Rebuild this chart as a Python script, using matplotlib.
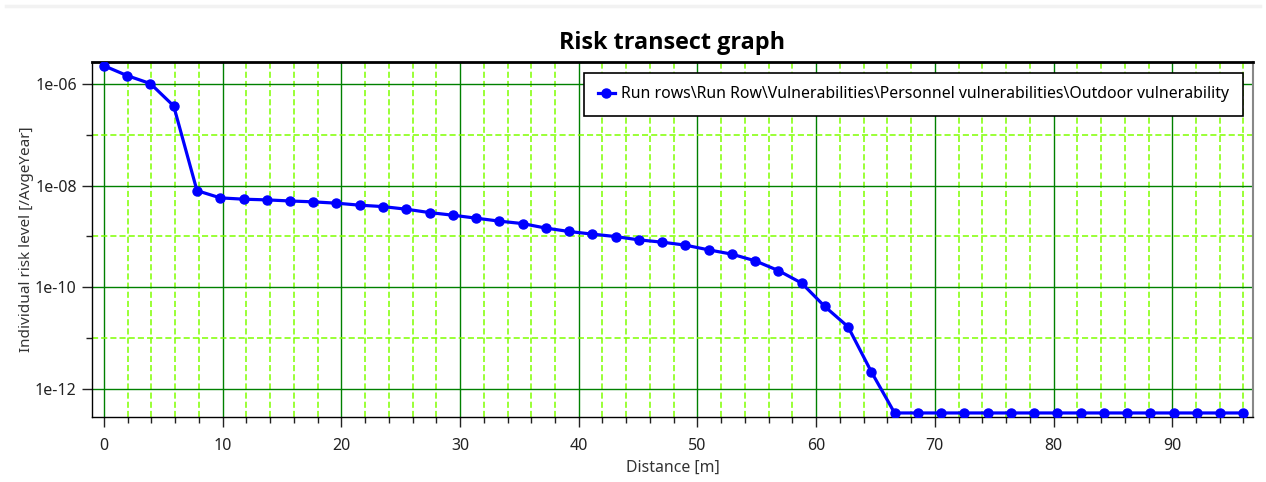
import matplotlib
matplotlib.use("Agg")
import matplotlib.pyplot as plt
from matplotlib.ticker import FixedLocator, FuncFormatter, MultipleLocator
from matplotlib.lines import Line2D

plt.rcParams["font.family"] = ["Noto Sans", "DejaVu Sans"]

# Distance along the transect [m]
distance = [0.0, 1.96, 3.92, 5.88, 7.84, 9.80, 11.76, 13.71, 15.67, 17.63,
            19.59, 21.55, 23.51, 25.47, 27.43, 29.39, 31.35, 33.31, 35.27, 37.22,
            39.18, 41.14, 43.10, 45.06, 47.02, 48.98, 50.94, 52.90, 54.86, 56.82,
            58.78, 60.73, 62.69, 64.65, 66.61, 68.57, 70.53, 72.49, 74.45, 76.41,
            78.37, 80.33, 82.29, 84.24, 86.20, 88.16, 90.12, 92.08, 94.04, 96.00]

# Individual risk level [/AvgeYear]
risk = [2.32e-6, 1.48e-6, 1.03e-6, 3.73e-7, 8.0e-9, 5.75e-9, 5.42e-9, 5.25e-9, 5.0e-9, 4.8e-9,
        4.52e-9, 4.13e-9, 3.87e-9, 3.44e-9, 2.95e-9, 2.62e-9, 2.29e-9, 2.0e-9, 1.79e-9, 1.46e-9,
        1.25e-9, 1.11e-9, 9.93e-10, 8.55e-10, 7.7e-10, 6.73e-10, 5.43e-10, 4.47e-10, 3.3e-10, 2.12e-10,
        1.2e-10, 4.15e-11, 1.65e-11, 2.14e-12, 3.3e-13, 3.3e-13, 3.3e-13, 3.3e-13, 3.3e-13, 3.3e-13,
        3.3e-13, 3.3e-13, 3.3e-13, 3.3e-13, 3.3e-13, 3.3e-13, 3.3e-13, 3.3e-13, 3.3e-13, 3.3e-13]

series_name = r"Run rows\Run Row\Vulnerabilities\Personnel vulnerabilities\Outdoor vulnerability"
y_major = [1e-12, 1e-10, 1e-8, 1e-6]
y_minor = [1e-11, 1e-9, 1e-7]

fig = plt.figure(figsize=(12.66, 4.82), dpi=100)
ax = fig.add_axes([0.0727, 0.1349, 0.9170, 0.7365])

# faint border at the top of the image
fig.add_artist(Line2D([0.005, 0.995], [0.987, 0.987], color="#f2f2f2", lw=2.5))

ax.plot(distance, risk, color="#0000ff", lw=2.3, marker="o", markersize=6.5,
        label=series_name, zorder=3)

ax.set_yscale("log")
ax.set_xlim(-1.0, 96.8)
ax.set_ylim(2.75e-13, 2.75e-6)

ax.xaxis.set_major_locator(MultipleLocator(10))
ax.xaxis.set_minor_locator(MultipleLocator(2))
ax.yaxis.set_major_locator(FixedLocator(y_major))
ax.yaxis.set_minor_locator(FixedLocator(y_minor))
ax.yaxis.set_major_formatter(FuncFormatter(lambda v, p: "%.0e" % v))
ax.yaxis.set_minor_formatter(FuncFormatter(lambda v, p: ""))

ax.grid(which="major", color="#008000", lw=1.0, ls="-", zorder=1)
ax.grid(which="minor", color="#7fff00", lw=1.1, ls=(0, (4, 2)), zorder=1)
ax.set_axisbelow(True)

ax.tick_params(which="major", length=7, width=1, colors="#222222", labelsize=11.5, pad=4)
ax.tick_params(which="minor", length=4, width=1, colors="#222222")
ax.tick_params(axis="x", which="major", pad=8)

for s in ["left", "bottom"]:
    ax.spines[s].set_color("black")
    ax.spines[s].set_linewidth(1.0)
ax.spines["top"].set_color("black")
ax.spines["top"].set_linewidth(2.0)
ax.spines["right"].set_color("#888888")
ax.spines["right"].set_linewidth(1.5)

ax.set_title("Risk transect graph", fontsize=16.8, fontweight="bold", pad=9,
             family=["Open Sans", "DejaVu Sans"])
ax.set_xlabel("Distance [m]", fontsize=11.4, color="#333333", labelpad=4)
ax.set_ylabel("Individual risk level [/AvgeYear]", fontsize=11, color="#333333", labelpad=1)

leg = ax.legend(loc="upper right", bbox_to_anchor=(0.9914, 0.969), borderaxespad=0,
                fontsize=11.4, frameon=True, fancybox=False, edgecolor="black",
                framealpha=1, borderpad=0.85, handlelength=1.1, handletextpad=0.4)
leg.get_frame().set_linewidth(1.2)
leg.set_zorder(5)

plt.savefig("out.png", dpi=100)
